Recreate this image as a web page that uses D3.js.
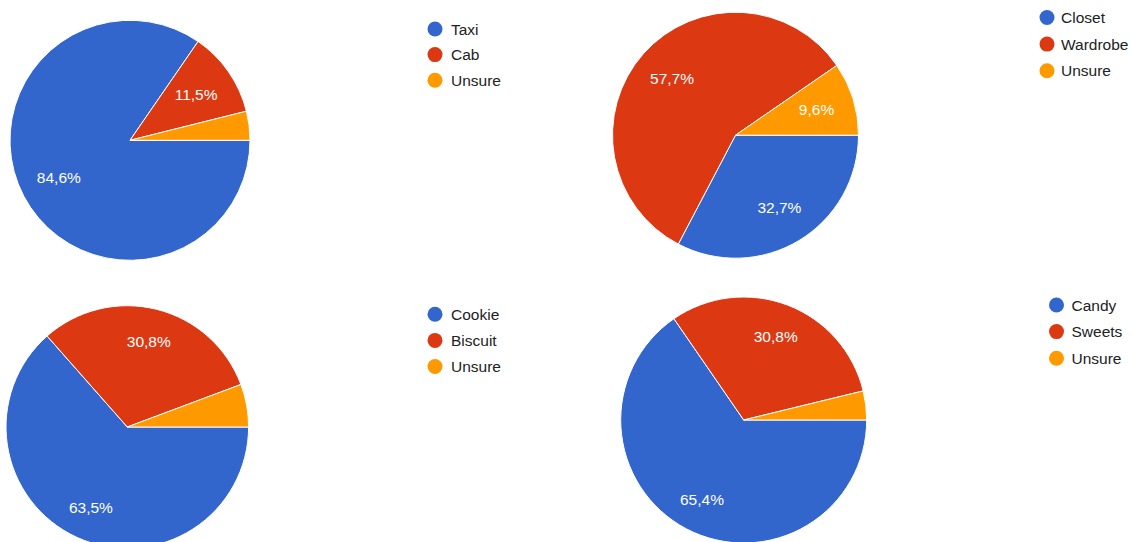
<!DOCTYPE html>
<html>
<head>
<meta charset="utf-8">
<script src="https://cdn.jsdelivr.net/npm/d3@7"></script>
<style>
  html, body { margin: 0; padding: 0; background: #ffffff; }
  svg { display: block; }
</style>
</head>
<body>
<svg id="chart" width="1132" height="542"></svg>
<script>
// Survey answers, shares in percent
const taxiCategories = ["Taxi", "Cab", "Unsure"];
const taxiValues = [84.6, 11.5, 3.9];

const closetCategories = ["Closet", "Wardrobe", "Unsure"];
const closetValues = [32.7, 57.7, 9.6];

const cookieCategories = ["Cookie", "Biscuit", "Unsure"];
const cookieValues = [63.5, 30.8, 5.7];

const candyCategories = ["Candy", "Sweets", "Unsure"];
const candyValues = [65.4, 30.8, 3.8];

const sliceColors = ["#3366cc", "#dc3912", "#ff9900"];

// Placement of each pie and its legend
const panels = [
  { cats: taxiCategories,   vals: taxiValues,   cx: 130,   cy: 140.3, r: 120,   lab: 0.67, lx: 435,    ly: 29,    step: 25.6, tx: 16 },
  { cats: closetCategories, vals: closetValues, cx: 735.5, cy: 135.2, r: 123,   lab: 0.69, lx: 1047,   ly: 17.5,  step: 26.6, tx: 14 },
  { cats: cookieCategories, vals: cookieValues, cx: 127.3, cy: 427,   r: 121.3, lab: 0.73, lx: 435,    ly: 314.3, step: 26.1, tx: 16 },
  { cats: candyCategories,  vals: candyValues,  cx: 743.7, cy: 420,   r: 123,   lab: 0.73, lx: 1056.5, ly: 305,   step: 26.6, tx: 15 }
];

const svg = d3.select("#chart");
const color = d3.scaleOrdinal().domain([0, 1, 2]).range(sliceColors);
const fmt = v => d3.format(".1f")(v).replace(".", ",") + "%";

panels.forEach(p => {
  const data = p.cats.map((c, i) => ({ cat: c, val: p.vals[i], idx: i }));

  // slices run clockwise starting from 3 o'clock
  const pie = d3.pie()
    .value(d => d.val)
    .sort(null)
    .startAngle(Math.PI / 2)
    .endAngle(Math.PI / 2 + 2 * Math.PI);

  const arcs = pie(data);
  const arc = d3.arc().innerRadius(0).outerRadius(p.r);
  const labelArc = d3.arc().innerRadius(p.r * p.lab).outerRadius(p.r * p.lab);

  const g = svg.append("g").attr("transform", `translate(${p.cx},${p.cy})`);

  g.selectAll("path.slice")
    .data(arcs)
    .join("path")
    .attr("class", "slice")
    .attr("d", arc)
    .attr("fill", d => color(d.data.idx))
    .attr("stroke", "#ffffff")
    .attr("stroke-width", 1);

  // percentage labels only on slices large enough to hold them
  g.selectAll("text.pct")
    .data(arcs.filter(d => d.data.val >= 7))
    .join("text")
    .attr("class", "pct")
    .attr("transform", d => `translate(${labelArc.centroid(d)})`)
    .attr("text-anchor", "middle")
    .attr("dominant-baseline", "central")
    .attr("fill", "#ffffff")
    .style("font-family", "'Liberation Sans', Arial, sans-serif")
    .style("font-size", "15.5px")
    .text(d => fmt(d.data.val));

  // legend
  const lg = svg.append("g").attr("transform", `translate(${p.lx},${p.ly})`);
  const rows = lg.selectAll("g.row")
    .data(data)
    .join("g")
    .attr("class", "row")
    .attr("transform", (d, i) => `translate(0,${i * p.step})`);

  rows.append("circle")
    .attr("r", 7.5)
    .attr("fill", d => color(d.idx));

  rows.append("text")
    .attr("x", p.tx)
    .attr("dominant-baseline", "central")
    .attr("fill", "#222222")
    .style("font-family", "'Liberation Sans', Arial, sans-serif")
    .style("font-size", "15.5px")
    .text(d => d.cat);
});
</script>
</body>
</html>
